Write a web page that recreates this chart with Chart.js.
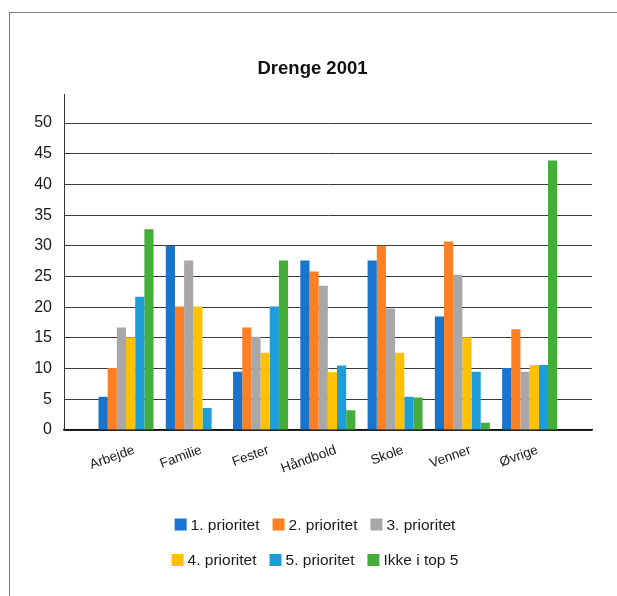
<!DOCTYPE html>
<html>
<head>
<meta charset="utf-8">
<title>Drenge 2001</title>
<script src="https://cdn.jsdelivr.net/npm/chart.js@4.4.1/dist/chart.umd.min.js"></script>
<style>
  html, body { margin: 0; padding: 0; background: #fff; }
  #wrap { position: relative; width: 617px; height: 596px; overflow: hidden; }
  #frame { position: absolute; left: 9px; top: 12px; right: -5px; bottom: -5px;
           border-left: 1.5px solid #7d7d7d; border-top: 1.5px solid #7d7d7d; }
  #c { position: absolute; left: 0; top: 0; }
</style>
</head>
<body>
<div id="wrap">
  <div id="frame"></div>
  <canvas id="c" width="617" height="596"></canvas>
</div>
<script>
// Categories and the share (%) of boys per priority level
const categories = ['Arbejde', 'Familie', 'Fester', 'Håndbold', 'Skole', 'Venner', 'Øvrige'];
const seriesNames = ['1. prioritet', '2. prioritet', '3. prioritet', '4. prioritet', '5. prioritet', 'Ikke i top 5'];
const prioritet1 = [5.4, 30.0, 9.5, 27.6, 27.6, 18.5, 10.1];
const prioritet2 = [10.1, 20.1, 16.7, 25.8, 30.0, 30.7, 16.4];
const prioritet3 = [16.7, 27.6, 15.2, 23.5, 19.8, 25.3, 9.5];
const prioritet4 = [15.1, 20.1, 12.6, 9.4, 12.6, 15.1, 10.6];
const prioritet5 = [21.7, 3.6, 20.1, 10.5, 5.4, 9.5, 10.6];
const ikkeTop5 = [32.7, 0, 27.6, 3.2, 5.3, 1.2, 43.9];
const yTickValues = [0, 5, 10, 15, 20, 25, 30, 35, 40, 45, 50];

const seriesValues = [prioritet1, prioritet2, prioritet3, prioritet4, prioritet5, ikkeTop5];
const seriesColors = ['#1874CD', '#FF7F24', '#A8A8A8', '#FFC000', '#1E9ED8', '#45AE3A'];

const SANS = "'Liberation Sans', Arial, sans-serif";

// Legend drawn as two centred rows of three entries
const rowLegend = {
  id: 'rowLegend',
  afterDraw(chart) {
    const ctx = chart.ctx;
    const rows = [[0, 1, 2], [3, 4, 5]];
    const rowY = [chart.chartArea.bottom + 94.5, chart.chartArea.bottom + 130];
    const box = 12, gap = 4, spacing = 13;
    const cx = 315;
    ctx.save();
    ctx.font = '15.5px ' + SANS;
    ctx.textBaseline = 'middle';
    ctx.textAlign = 'left';
    rows.forEach((row, r) => {
      const widths = row.map(i => box + gap + ctx.measureText(chart.data.datasets[i].label).width);
      const total = widths.reduce((a, b) => a + b, 0) + spacing * (row.length - 1);
      let x = cx - total / 2;
      row.forEach((i, k) => {
        const ds = chart.data.datasets[i];
        ctx.fillStyle = ds.backgroundColor;
        ctx.fillRect(x, rowY[r] - box / 2, box, box);
        ctx.fillStyle = '#1a1a1a';
        ctx.fillText(ds.label, x + box + gap, rowY[r] + 1);
        x += widths[k] + spacing;
      });
    });
    ctx.restore();
  }
};

new Chart(document.getElementById('c'), {
  type: 'bar',
  data: {
    labels: categories.map((_, i) => i),
    datasets: seriesNames.map((name, s) => ({
      label: name,
      data: seriesValues[s],
      backgroundColor: seriesColors[s],
      borderWidth: 0,
      barPercentage: 1,
      categoryPercentage: 0.818
    }))
  },
  options: {
    responsive: false,
    animation: false,
    layout: { padding: { top: 0, right: 25, bottom: 86, left: 33 } },
    plugins: {
      legend: { display: false },
      tooltip: { enabled: false },
      title: {
        display: true,
        text: 'Drenge 2001',
        color: '#111',
        font: { family: SANS, size: 18.5, weight: 'bold' },
        padding: { top: 58, bottom: 14 }
      }
    },
    scales: {
      x: {
        type: 'linear',
        offset: false,
        min: -0.922,
        max: 6.927,
        afterBuildTicks: (axis) => { axis.ticks = categories.map((_, i) => ({ value: i })); },
        afterFit: (axis) => { axis.height = 80; },
        grid: { display: false },
        border: { display: true, color: '#111', width: 1.5 },
        ticks: {
          autoSkip: false,
          minRotation: 20,
          maxRotation: 20,
          padding: 4,
          labelOffset: 8,
          color: '#1a1a1a',
          font: { family: SANS, size: 13.5 },
          callback: (v) => categories[v] ?? ''
        }
      },
      y: {
        min: 0,
        max: 54.7,
        afterBuildTicks: (axis) => { axis.ticks = yTickValues.map(v => ({ value: v })); },
        afterFit: (axis) => { axis.width = 31; },
        grid: { color: '#3a3a3a', lineWidth: 1, drawTicks: false },
        border: { display: true, color: '#333', width: 1 },
        ticks: {
          padding: 12,
          color: '#1a1a1a',
          font: { family: SANS, size: 16 }
        }
      }
    }
  },
  plugins: [rowLegend]
});
</script>
</body>
</html>
